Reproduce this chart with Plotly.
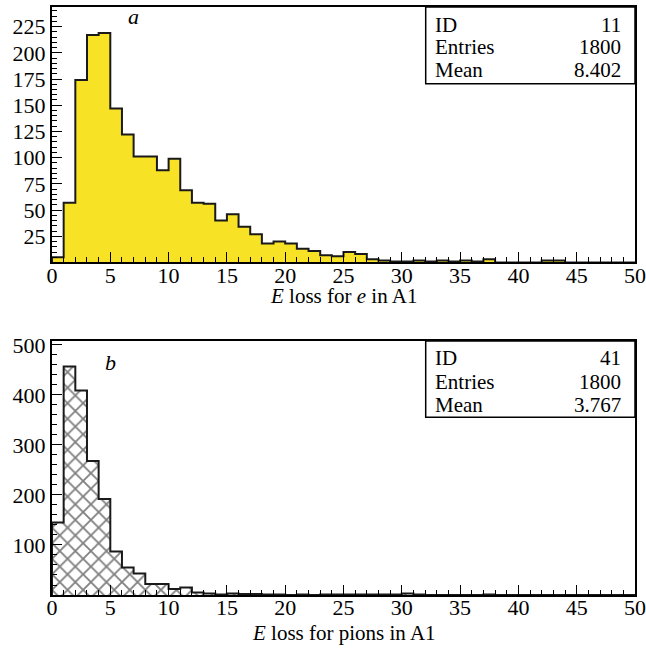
import plotly.graph_objects as go

# Histogram binning (1 unit per bin over 0..50)
bin_edges = list(range(0, 51))

# Energy loss for electrons in A1 (counts per bin)
e_counts = [5, 57, 174, 217, 219, 147, 122, 101, 101, 88,
            99, 69, 57, 56, 40, 46, 34, 27, 18, 20,
            18, 13, 11, 7, 6, 10, 8, 3, 2, 1,
            1, 2, 1, 2, 1, 2, 1, 3, 0, 0,
            0, 0, 2, 2, 0, 0, 0, 0, 0, 0]

# Energy loss for pions in A1 (counts per bin)
pion_counts = [145, 457, 409, 268, 192, 87, 55, 43, 22, 22,
               12, 15, 5, 3, 1, 3, 2, 2, 1, 1,
               0, 1, 0, 1, 1, 1, 1, 1, 1, 1,
               3, 1, 0, 0, 0, 0, 0, 1, 0, 0,
               0, 0, 0, 0, 0, 0, 0, 0, 0, 0]

# Statistics boxes
stats_e = [("ID", "11"), ("Entries", "1800"), ("Mean", "8.402")]
stats_pi = [("ID", "41"), ("Entries", "1800"), ("Mean", "3.767")]

x_ticks = list(range(0, 51, 5))
y_ticks_e = list(range(25, 226, 25))
y_ticks_pi = list(range(100, 501, 100))

FONT = "Liberation Serif, Times New Roman, serif"
YELLOW = "rgb(247,226,37)"

centers = [(a + b) / 2 for a, b in zip(bin_edges[:-1], bin_edges[1:])]


def step_xy(counts):
    xs = [bin_edges[0]] + bin_edges
    ys = [0] + counts + [0]
    return xs, ys


fig = go.Figure()

# top: electrons, solid yellow fill
fig.add_trace(go.Bar(x=centers, y=e_counts, width=1, marker=dict(color=YELLOW, line=dict(width=0)),
                     xaxis="x", yaxis="y", showlegend=False, hoverinfo="skip"))
sx, sy = step_xy(e_counts)
fig.add_trace(go.Scatter(x=sx, y=sy, mode="lines", line=dict(color="#1a1a1a", width=2, shape="hv"),
                         xaxis="x", yaxis="y", showlegend=False, hoverinfo="skip"))

# bottom: pions, cross-hatched fill
fig.add_trace(go.Bar(x=centers, y=pion_counts, width=1,
                     marker=dict(color="white", line=dict(width=0),
                                 pattern=dict(shape="x", size=11, solidity=0.3,
                                              fgcolor="black", bgcolor="white")),
                     xaxis="x2", yaxis="y2", showlegend=False, hoverinfo="skip"))
sx, sy = step_xy(pion_counts)
fig.add_trace(go.Scatter(x=sx, y=sy, mode="lines", line=dict(color="#1a1a1a", width=2, shape="hv"),
                         xaxis="x2", yaxis="y2", showlegend=False, hoverinfo="skip"))

tickfont = dict(family=FONT, size=22, color="black")


def xaxis_cfg(anchor):
    return dict(range=[0, 50], domain=[0, 1], anchor=anchor, automargin=False,
                tickmode="array", tickvals=x_ticks, ticktext=[str(v) for v in x_ticks],
                ticks="inside", ticklen=10, tickwidth=1, tickcolor="black",
                minor=dict(ticks="inside", tick0=0, dtick=1, ticklen=5, tickwidth=1, tickcolor="black"),
                showline=True, linewidth=2, linecolor="black", mirror=True,
                showgrid=False, zeroline=False, tickfont=tickfont, ticklabelstandoff=-8)


def yaxis_cfg(anchor, domain, rng, tickvals, minor_dtick):
    return dict(range=rng, domain=domain, anchor=anchor, automargin=False,
                tickmode="array", tickvals=tickvals, ticktext=[str(v) for v in tickvals],
                ticks="inside", ticklen=10, tickwidth=1, tickcolor="black",
                minor=dict(ticks="inside", tick0=0, dtick=minor_dtick, ticklen=5, tickwidth=1,
                           tickcolor="black"),
                showline=True, linewidth=2, linecolor="black", mirror=True,
                showgrid=False, zeroline=False, tickfont=tickfont, ticklabelstandoff=0)


annotations = []
shapes = []


def stats_box(xr, yr, rows, ys):
    shapes.append(dict(type="rect", xref=xr + " domain", yref=yr + " domain",
                       x0=0.641, x1=1.0, y0=0.70, y1=1.0,
                       line=dict(color="black", width=1.5), fillcolor="white", layer="above"))
    for (name, val), yy in zip(rows, ys):
        annotations.append(dict(xref=xr + " domain", yref=yr + " domain", x=0.654, y=yy,
                                text=name, showarrow=False, xanchor="left", yanchor="middle",
                                font=dict(family=FONT, size=21, color="black")))
        annotations.append(dict(xref=xr + " domain", yref=yr + " domain", x=0.9794, y=yy,
                                text=val, showarrow=False, xanchor="right", yanchor="middle",
                                font=dict(family=FONT, size=21, color="black")))


stats_box("x", "y", stats_e, [0.931, 0.845, 0.755])
stats_box("x2", "y2", stats_pi, [0.933, 0.840, 0.748])

# panel letters
annotations.append(dict(xref="x domain", yref="y domain", x=0.139, y=0.963, text="<i>a</i>",
                        showarrow=False, xanchor="center", yanchor="middle",
                        font=dict(family=FONT, size=22, color="black")))
annotations.append(dict(xref="x2 domain", yref="y2 domain", x=0.0995, y=0.917, text="<i>b</i>",
                        showarrow=False, xanchor="center", yanchor="middle",
                        font=dict(family=FONT, size=22, color="black")))

# axis titles
annotations.append(dict(xref="paper", yref="paper", x=0.5, y=0.509,
                        text="<i>E</i> loss for <i>e</i> in A1", showarrow=False,
                        xanchor="center", yanchor="middle", borderpad=0,
                        font=dict(family=FONT, size=21, color="black")))
annotations.append(dict(xref="paper", yref="paper", x=0.5, y=-0.0646,
                        text="<i>E</i> loss for pions in A1", showarrow=False,
                        xanchor="center", yanchor="middle", borderpad=0,
                        font=dict(family=FONT, size=21, color="black")))

fig.update_layout(
    width=646, height=653,
    margin=dict(l=52, r=11, t=7, b=58),
    paper_bgcolor="white", plot_bgcolor="white",
    bargap=0, barmode="overlay",
    xaxis=xaxis_cfg("y"),
    yaxis=yaxis_cfg("x", [0.5655, 1.0], [0, 243.7], y_ticks_e, 5),
    xaxis2=xaxis_cfg("y2"),
    yaxis2=yaxis_cfg("x2", [0.0, 0.432], [0, 508], y_ticks_pi, 20),
    shapes=shapes, annotations=annotations,
    font=dict(family=FONT, color="black"),
)

fig.write_html("out.html")
